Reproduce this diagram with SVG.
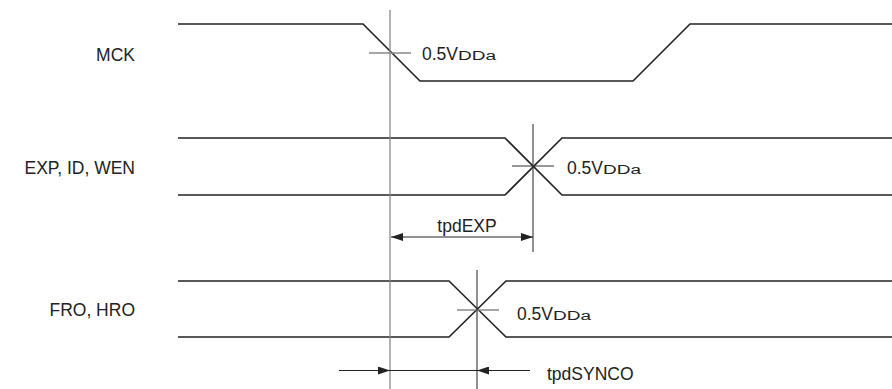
<svg xmlns="http://www.w3.org/2000/svg" width="892" height="389" viewBox="0 0 892 389">
<style>
.sig{fill:none;stroke:#222;stroke-width:1.6;stroke-linejoin:miter}
.ref{stroke:#888;stroke-width:1.3;fill:none}
.refd{stroke:#333;stroke-width:1.1;fill:none}
.dim{stroke:#222;stroke-width:1.1;fill:none}
text{font-family:"Liberation Sans",Arial,sans-serif;font-size:17.5px;fill:#222}
.sub{font-size:12px}
</style>
<defs>
<marker id="ah" viewBox="0 0 12 8" refX="12" refY="4" markerWidth="12" markerHeight="8" markerUnits="userSpaceOnUse" orient="auto">
<path d="M0,0 L12,4 L0,8 Z" fill="#222"/>
</marker>
</defs>
<rect width="892" height="389" fill="#fff"/>
<g id="mck">
<text x="135" y="61" text-anchor="end">MCK</text>
<path class="sig" d="M178,24 H363 L420,81 H633 L690,24 H892"/>
<line class="ref" x1="369" y1="53" x2="411" y2="53"/>
<text x="422" y="59.5">0.5V</text>
<text class="sub" x="458" y="59.5" textLength="38" lengthAdjust="spacingAndGlyphs">DDa</text>
</g>
<g id="exp">
<text x="135" y="173.5" text-anchor="end">EXP, ID, WEN</text>
<path class="sig" d="M178,138 H505 L562,195 H892"/>
<path class="sig" d="M178,195 H505 L562,138 H892"/>
<line class="refd" x1="512" y1="166" x2="554" y2="166"/>
<text x="567" y="174">0.5V</text>
<text class="sub" x="603" y="174" textLength="38" lengthAdjust="spacingAndGlyphs">DDa</text>
</g>
<g id="fro">
<text x="135" y="315.5" text-anchor="end">FRO, HRO</text>
<path class="sig" d="M178,281 H449 L506,337 H892"/>
<path class="sig" d="M178,337 H449 L506,281 H892"/>
<line class="ref" x1="457" y1="310" x2="499" y2="310"/>
<text x="517" y="320">0.5V</text>
<text class="sub" x="553" y="320" textLength="38" lengthAdjust="spacingAndGlyphs">DDa</text>
</g>
<g id="connectors">
<line class="ref" x1="390" y1="10" x2="390" y2="389"/>
<line class="refd" x1="533" y1="124" x2="533" y2="252"/>
<line class="refd" x1="477" y1="270" x2="477" y2="389"/>
<line class="dim" x1="462" y1="237" x2="391" y2="237" marker-end="url(#ah)"/>
<line class="dim" x1="462" y1="237" x2="533" y2="237" marker-end="url(#ah)"/>
<line class="dim" x1="339" y1="370.5" x2="390" y2="370.5" marker-end="url(#ah)"/>
<line class="dim" x1="390" y1="370.5" x2="477" y2="370.5"/>
<line class="dim" x1="530" y1="370.5" x2="477" y2="370.5" marker-end="url(#ah)"/>
<text x="467" y="231.5" text-anchor="middle">tpdEXP</text>
<text x="547" y="380">tpdSYNCO</text>
</g>
</svg>
